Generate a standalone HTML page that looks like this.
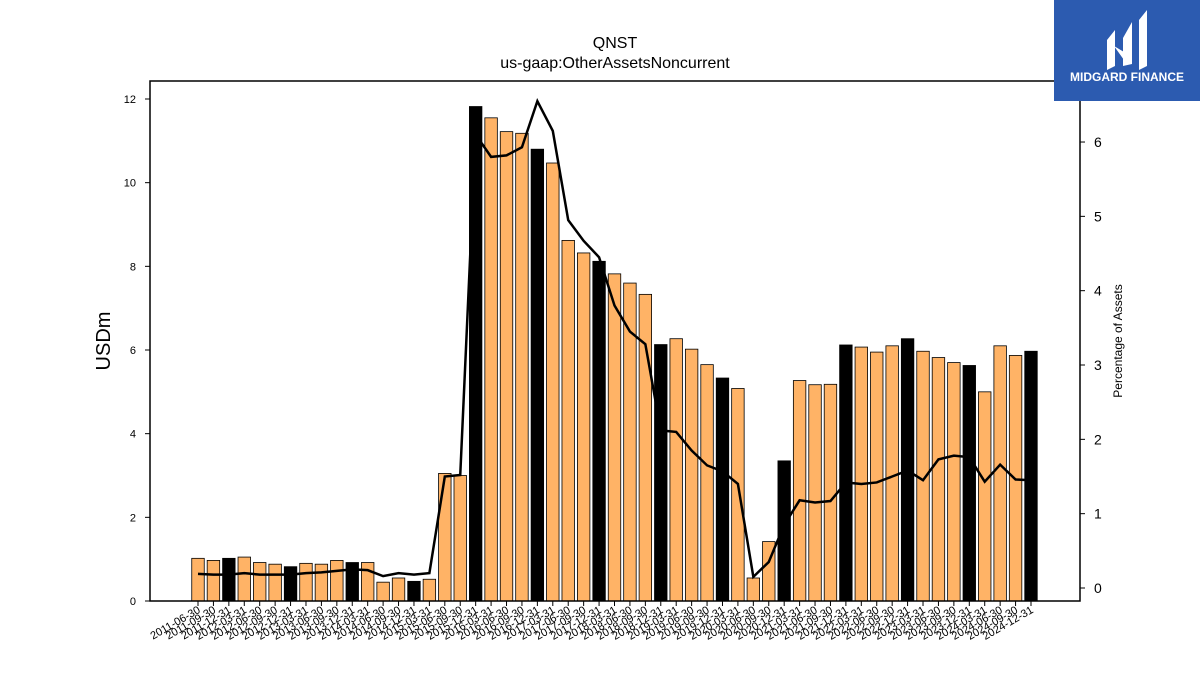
<!DOCTYPE html>
<html><head><meta charset="utf-8"><style>
body{margin:0;background:#fff;font-family:"Liberation Sans","DejaVu Sans",sans-serif}
svg{display:block}
</style></head><body>
<svg id="c" width="1200" height="675">
<text x="615" y="48" font-size="16" text-anchor="middle">QNST</text>
<text x="615" y="68" font-size="16" text-anchor="middle">us-gaap:OtherAssetsNoncurrent</text>
<g id="bars"></g><g id="line"></g><g id="axes"></g>
<rect x="150" y="81" width="930" height="520" fill="none" stroke="#000" stroke-width="1.5"/>
<text transform="translate(110,341) rotate(-90)" font-size="20" text-anchor="middle">USDm</text>
<text transform="translate(1122,341) rotate(-90)" font-size="12" text-anchor="middle">Percentage of Assets</text>
<g>
<rect x="1054" y="0" width="146" height="101" fill="#2c5bb0"/>
<path d="M1107 40 L1115 30 L1115 66 L1107 70 Z M1123 38 L1132 22 L1132 64 L1123 66 Z M1139 20 L1147 10 L1147 66 L1139 70 Z M1114 46 L1124 52 L1132 44 L1124 60 Z" fill="#fff"/>
<text x="1127" y="81" font-size="12" font-weight="bold" fill="#fff" text-anchor="middle">MIDGARD FINANCE</text>
</g>
</svg>
<script>
const dates=[];
for(let y=2011;y<=2024;y++){for(const q of ["03-31","06-30","09-30","12-31"]){const d=y+"-"+q;if(d>="2011-06-30")dates.push(d);}}
const values=[1.02,0.97,1.02,1.05,0.92,0.88,0.82,0.90,0.88,0.97,0.92,0.92,0.45,0.55,0.47,0.52,3.05,3.0,11.82,11.55,11.22,11.18,10.8,10.47,8.62,8.32,8.12,7.82,7.6,7.33,6.13,6.27,6.02,5.65,5.33,5.08,0.55,1.42,3.35,5.27,5.17,5.18,6.12,6.07,5.95,6.1,6.27,5.97,5.82,5.7,5.63,5.0,6.1,5.87,5.97];
const pct=[0.19,0.18,0.18,0.2,0.18,0.18,0.18,0.2,0.21,0.23,0.25,0.24,0.16,0.2,0.18,0.2,1.5,1.52,6.1,5.8,5.82,5.93,6.55,6.15,4.95,4.67,4.45,3.8,3.45,3.28,2.12,2.1,1.85,1.65,1.57,1.4,0.15,0.35,0.85,1.18,1.15,1.17,1.42,1.4,1.42,1.5,1.58,1.45,1.73,1.78,1.76,1.43,1.66,1.46,1.45];
const leftTicks=[0,2,4,6,8,10,12];
const rightTicks=[0,1,2,3,4,5,6];
const NS="http://www.w3.org/2000/svg";
const x=i=>198+i*(1031-198)/(dates.length-1);
const yL=v=>601-v*(502/12);
const yR=v=>588-v*74.33;
function mk(t,a,p){const e=document.createElementNS(NS,t);for(const k in a)e.setAttribute(k,a[k]);p.appendChild(e);return e;}
const bars=document.getElementById("bars"),line=document.getElementById("line"),axes=document.getElementById("axes");
const bw=12.5;
values.forEach((v,i)=>{
 const r=mk("rect",{x:x(i)-bw/2,y:yL(v),width:bw,height:601-yL(v),fill:dates[i].endsWith("12-31")?"#000":"#ffb366",stroke:"#000","stroke-width":0.8},bars);
 
 
 mk("line",{x1:x(i),x2:x(i),y1:601,y2:606,stroke:"#000"},axes);
 const t=mk("text",{x:x(i)+3,y:612,"font-size":11,"text-anchor":"end",transform:`rotate(-30 ${x(i)+3} 612)`},axes);
 t.textContent=dates[i];
 
 
});
const p=mk("polyline",{points:pct.map((v,i)=>x(i)+","+yR(v)).join(" "),fill:"none",stroke:"#000","stroke-width":2.5},line);


leftTicks.forEach(v=>{
 mk("line",{x1:145,x2:150,y1:yL(v),y2:yL(v),stroke:"#000"},axes);
 const t=mk("text",{x:136,y:yL(v)+4,"font-size":11,"text-anchor":"end"},axes);
 t.textContent=v;
 
 
});
rightTicks.forEach(v=>{
 mk("line",{x1:1080,x2:1085,y1:yR(v),y2:yR(v),stroke:"#000"},axes);
 const t=mk("text",{x:1094,y:yR(v)+5,"font-size":14},axes);
 t.textContent=v;
 
 
});
</script>
</body></html>
